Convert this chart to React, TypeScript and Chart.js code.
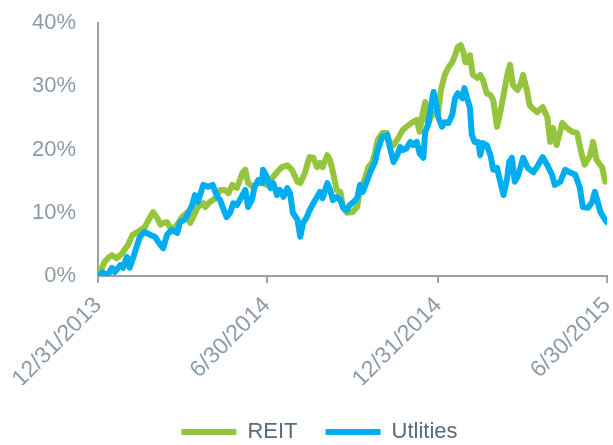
import React, { useEffect, useRef } from 'react';
import { Chart, registerables } from 'chart.js';

Chart.register(...registerables);

// Days since 12/31/2013 used for the x axis tick marks and their labels
const tickDays = [0, 181, 365, 546];
const tickLabels = ['12/31/2013', '6/30/2014', '12/31/2014', '6/30/2015'];

// Cumulative total return, % (REIT)
const reitDays = [0, 3, 7, 12, 15, 20, 26, 32, 37, 43, 50, 56, 59, 63, 67, 70, 74, 79, 85, 90, 96, 99, 102, 107, 113, 115, 120, 126, 131, 136, 140, 144, 149, 155, 158, 161, 166, 172, 177, 181, 187, 192, 197, 203, 208, 214, 217, 222, 225, 227, 231, 235, 238, 241, 246, 249, 252, 256, 260, 263, 267, 273, 278, 281, 286, 290, 294, 297, 300, 305, 310, 313, 317, 322, 327, 331, 337, 342, 345, 348, 351, 354, 358, 363, 365, 368, 372, 376, 380, 383, 386, 389, 392, 394, 397, 399, 402, 407, 410, 413, 417, 421, 424, 428, 431, 435, 439, 442, 445, 450, 453, 456, 460, 463, 467, 471, 477, 482, 485, 488, 492, 498, 503, 509, 514, 519, 522, 528, 531, 535, 541, 544];
const reitValues = [0, 0.9, 2.2, 3.0, 3.3, 2.8, 3.6, 4.9, 6.5, 7.0, 7.7, 9.3, 10.1, 9.3, 8.1, 8.4, 8.5, 7.3, 8.1, 9.3, 10.1, 8.4, 9.3, 10.9, 11.5, 10.9, 11.7, 12.3, 13.6, 13.6, 13.1, 14.4, 13.9, 16.3, 16.8, 14.7, 14.1, 14.7, 14.7, 14.4, 15.5, 16.4, 17.2, 17.5, 16.8, 14.9, 14.7, 16.3, 17.9, 18.8, 18.7, 17.2, 17.9, 17.2, 19.1, 18.3, 16.4, 13.6, 13.3, 10.8, 10.0, 10.1, 10.9, 13.6, 15.2, 17.2, 17.9, 19.4, 21.5, 22.6, 22.6, 21.0, 20.7, 21.8, 23.1, 23.6, 24.3, 24.7, 22.8, 25.5, 27.5, 23.9, 25.5, 25.8, 26.0, 29.5, 31.8, 33.0, 33.8, 34.9, 36.2, 36.5, 35.4, 33.8, 33.8, 34.9, 31.8, 31.3, 31.8, 31.0, 28.9, 28.6, 27.8, 23.6, 25.5, 28.6, 31.8, 33.4, 30.2, 29.4, 30.2, 31.8, 29.4, 27.0, 26.4, 25.9, 26.7, 25.1, 21.2, 23.4, 20.7, 24.2, 23.4, 22.8, 22.6, 19.1, 17.6, 19.1, 21.2, 18.3, 17.1, 14.9];

// Cumulative total return, % (Utilities)
const utilDays = [0, 5, 10, 15, 18, 24, 27, 31, 34, 38, 42, 45, 50, 56, 61, 67, 70, 74, 79, 85, 88, 93, 97, 101, 104, 107, 113, 118, 123, 128, 131, 134, 138, 142, 145, 149, 152, 158, 161, 165, 168, 172, 176, 177, 181, 185, 188, 192, 195, 199, 203, 206, 209, 214, 217, 220, 224, 227, 231, 235, 238, 241, 246, 249, 252, 256, 260, 263, 267, 270, 274, 278, 281, 284, 289, 292, 297, 300, 305, 310, 313, 317, 321, 324, 327, 331, 335, 338, 342, 345, 349, 351, 354, 358, 360, 363, 365, 369, 372, 376, 380, 383, 386, 391, 393, 396, 399, 401, 404, 408, 410, 413, 417, 421, 424, 428, 431, 435, 439, 441, 444, 447, 451, 456, 461, 467, 472, 477, 482, 487, 490, 496, 501, 506, 512, 517, 520, 526, 530, 533, 539, 544, 546];
const utilValues = [0, 0.6, 0, 1.3, 0.6, 1.7, 1.3, 3.0, 1.3, 3.0, 4.9, 6.2, 7.0, 6.5, 6.2, 4.9, 4.4, 6.5, 7.3, 6.8, 8.5, 8.9, 10.0, 11.2, 12.8, 11.7, 14.4, 14.1, 14.4, 12.5, 12.0, 10.8, 9.3, 10.1, 11.5, 11.2, 12.0, 13.6, 10.9, 12.0, 14.1, 15.2, 14.7, 16.8, 15.7, 13.9, 14.7, 12.8, 13.6, 12.5, 13.9, 13.1, 10.0, 8.9, 6.2, 8.4, 9.3, 10.4, 11.5, 12.5, 13.3, 12.3, 14.7, 13.6, 12.0, 12.5, 12.0, 10.8, 10.4, 11.2, 11.7, 12.3, 14.4, 13.3, 15.2, 16.4, 18.0, 19.9, 22.0, 22.3, 20.4, 18.0, 19.1, 20.4, 19.9, 20.2, 21.2, 20.7, 21.2, 19.4, 18.7, 22.8, 23.9, 27.5, 29.1, 27.0, 25.1, 23.6, 24.3, 24.2, 25.5, 28.1, 28.9, 28.1, 29.7, 28.1, 26.6, 22.3, 21.2, 21.2, 19.1, 21.0, 20.7, 19.1, 16.8, 17.1, 15.2, 12.8, 15.5, 18.0, 18.7, 14.9, 16.0, 18.7, 17.1, 16.4, 17.5, 18.8, 17.5, 16.0, 14.4, 14.9, 16.8, 16.4, 16.0, 13.9, 10.9, 10.8, 11.7, 13.3, 10.1, 8.9, 8.5];

const seriesNames = ['REIT', 'Utlities'];
const seriesColors = ['#95C43D', '#00AEEF'];

const axisColor = '#9AA3AC';
const tickColor = '#8D9BAA';
const legendColor = '#586A7D';
const fontFamily = '"Liberation Sans", Arial, sans-serif';

export default function App() {
  const canvasRef = useRef<HTMLCanvasElement | null>(null);

  useEffect(() => {
    document.body.style.margin = '0';
    const canvas = canvasRef.current;
    if (!canvas) return;

    const legendPlace = {
      id: 'legendPlace',
      afterLayout(chart: any) {
        const lg = chart.legend;
        if (!lg) return;
        const dx = 16;
        const h = lg.height;
        lg.left += dx;
        lg.right += dx;
        lg.top = 393;
        lg.bottom = 393 + h;
      },
    };

    const chart = new Chart(canvas, {
      type: 'line',
      data: {
        datasets: [
          {
            label: seriesNames[0],
            data: reitDays.map((d, i) => ({ x: d, y: reitValues[i] })),
            borderColor: seriesColors[0],
            backgroundColor: seriesColors[0],
            borderWidth: 6,
            pointRadius: 0,
            tension: 0,
            borderJoinStyle: 'round',
            borderCapStyle: 'round',
            fill: false,
            order: 1,
          },
          {
            label: seriesNames[1],
            data: utilDays.map((d, i) => ({ x: d, y: utilValues[i] })),
            borderColor: seriesColors[1],
            backgroundColor: seriesColors[1],
            borderWidth: 6,
            pointRadius: 0,
            tension: 0,
            borderJoinStyle: 'round',
            borderCapStyle: 'round',
            fill: false,
            order: 0,
          },
        ],
      },
      options: {
        responsive: false,
        animation: false,
        layout: { padding: { top: 23, right: 6, left: 0, bottom: 0 } },
        plugins: {
          tooltip: { enabled: false },
          legend: {
            position: 'bottom',
            labels: {
              usePointStyle: true,
              pointStyle: 'line',
              pointStyleWidth: 55,
              padding: 28,
              color: legendColor,
              font: { family: fontFamily, size: 22 },
              sort: (a: any, b: any) => a.datasetIndex - b.datasetIndex,
            },
          },
        },
        scales: {
          x: {
            type: 'linear',
            min: tickDays[0],
            max: tickDays[tickDays.length - 1],
            afterBuildTicks: (s: any) => {
              s.ticks = tickDays.map((v) => ({ value: v }));
            },
            afterFit: (s: any) => {
              s.height = 109;
              s.paddingLeft = 0;
              s.paddingRight = 0;
            },
            ticks: {
              autoSkip: false,
              minRotation: 45,
              maxRotation: 45,
              padding: 9,
              color: tickColor,
              font: { family: fontFamily, size: 23 },
              callback: (v: any) => {
                const i = tickDays.indexOf(Number(v));
                return i >= 0 ? tickLabels[i] : '';
              },
            },
            grid: {
              display: true,
              drawOnChartArea: false,
              drawTicks: true,
              tickLength: 7,
              color: axisColor,
              lineWidth: 2,
            },
            border: { display: true, color: axisColor, width: 2 },
          },
          y: {
            min: 0,
            max: 40,
            afterFit: (s: any) => {
              s.width = 98;
              s.paddingTop = 0;
              s.paddingBottom = 0;
            },
            ticks: {
              stepSize: 10,
              padding: 22,
              color: tickColor,
              font: { family: fontFamily, size: 22 },
              callback: (v: any) => `${v}%`,
            },
            grid: { display: false, drawTicks: false },
            border: { display: true, color: axisColor, width: 2 },
          },
        },
      },
      plugins: [legendPlace],
    } as any);

    return () => chart.destroy();
  }, []);

  return (
    <div style={{ width: 613, height: 445 }}>
      <canvas ref={canvasRef} width={613} height={445} />
    </div>
  );
}
